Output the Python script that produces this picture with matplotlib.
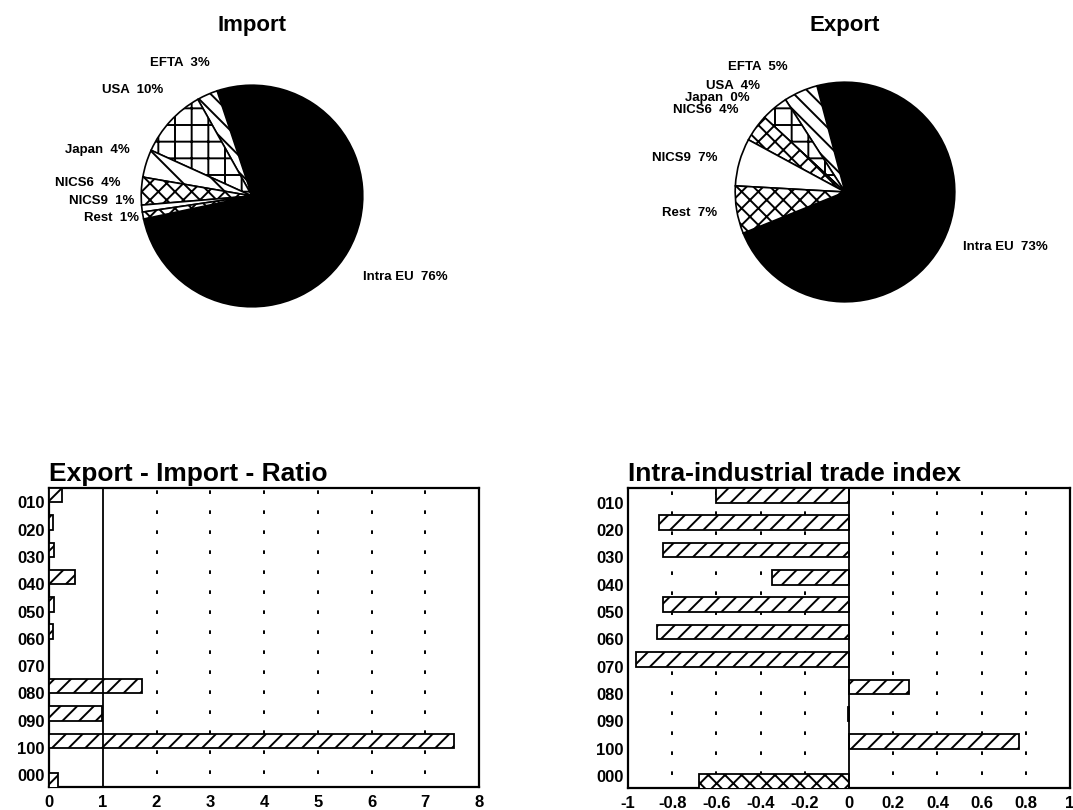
import numpy as np
import matplotlib
matplotlib.use("Agg")
from matplotlib import pyplot as plt

plt.rcParams['font.family'] = ['Liberation Sans', 'DejaVu Sans']
plt.rcParams['font.weight'] = 'bold'
plt.rcParams['axes.titleweight'] = 'bold'
plt.rcParams['hatch.linewidth'] = 1.4
plt.rcParams['lines.scale_dashes'] = False

# pie data
regions = ['Intra EU', 'EFTA', 'USA', 'Japan', 'NICS6', 'NICS9', 'Rest']
import_share = [76, 3, 10, 4, 4, 1, 1]
export_share = [73, 5, 4, 0, 4, 7, 7]

# bar data
categories = ['010', '020', '030', '040', '050', '060', '070', '080', '090', '100', '000']
ex_im_ratio = [0.25, 0.08, 0.09, 0.48, 0.09, 0.07, 0.0, 1.73, 0.98, 7.53, 0.17]
intra_index = [-0.60, -0.86, -0.84, -0.35, -0.84, -0.87, -0.965, 0.27, -0.005, 0.77, -0.68]

W, H = 1073, 810
fig = plt.figure(figsize=(W / 100, H / 100), dpi=100)


def px_axes(x0, y0, x1, y1):
    return fig.add_axes([x0 / W, 1 - y1 / H, (x1 - x0) / W, (y1 - y0) / H])


pie_hatch = {
    'import': [None, '\\\\', '+', '\\', 'xx', None, 'xx'],
    'export': [None, '\\\\', '+', None, 'xx', None, 'xx'],
}

label_pos = {
    'import': [(405, 277), (180, 63), (133, 90), (97, 150), (88, 183), (102, 201), (112, 218)],
    'export': [(1005, 247), (758, 67), (733, 86), (717, 98), (706, 110), (685, 158), (690, 213)],
}


def draw_pie(center, r, shares, hatches, labels_px, start, title):
    cx, cy = center
    ax = px_axes(cx - r, cy - r, cx + r, cy + r)
    wedges, _ = ax.pie(shares, startangle=start, counterclock=True,
                       wedgeprops=dict(edgecolor='black', linewidth=1.2))
    for w, h, name in zip(wedges, hatches, regions):
        if name == 'Intra EU':
            w.set_facecolor('black')
        else:
            w.set_facecolor('white')
            if h:
                w.set_hatch(h)
    ax.set_xlim(-1.02, 1.02)
    ax.set_ylim(-1.02, 1.02)
    fig.text(cx / W, 1 - 25 / H, title, ha='center', va='center', fontsize=16)
    for name, val, (tx, ty) in zip(regions, shares, labels_px):
        fig.text(tx / W, 1 - ty / H, f'{name}  {val}%', ha='center', va='center',
                 fontsize=9.5)


draw_pie((252, 196), 113, import_share, pie_hatch['import'], label_pos['import'],
         -168, 'Import')
draw_pie((845, 192), 112, export_share, pie_hatch['export'], label_pos['export'],
         -158, 'Export')

# bar charts
idx = np.arange(len(categories))
ypos = np.where(np.array(categories) == '000', idx + 0.19, idx - 0.265)


def draw_bars(ax, values, xlim, grid_x, ref, title, total_hatch):
    hatches = ['//'] * (len(values) - 1) + [total_hatch]
    for y, v, h in zip(ypos, values, hatches):
        ax.barh(y, v, height=0.53, left=0, color='white', edgecolor='black',
                linewidth=1.3, hatch=h, zorder=3)
    for gx in grid_x:
        ax.axvline(gx, color='black', lw=1.4, linestyle=(5, (2.6, 11.8)), zorder=1)
    ax.axvline(ref, color='black', lw=1.3, zorder=4)
    ax.set_xlim(*xlim)
    ax.set_ylim(10.43, -0.53)
    ax.set_yticks(idx)
    ax.set_yticklabels(categories, fontsize=12)
    ax.tick_params(length=0, pad=3)
    ax.tick_params(axis='x', labelsize=12, pad=6)
    for s in ax.spines.values():
        s.set_linewidth(1.6)
    ax.set_title(title, loc='left', fontsize=19, pad=5)


ax1 = px_axes(49, 488, 479, 787)
draw_bars(ax1, ex_im_ratio, (0, 8), [2, 3, 4, 5, 6, 7], 1, 'Export - Import - Ratio', '//')
ax1.set_xticks(range(0, 9))
ax1.set_xticklabels([str(i) for i in range(0, 9)])

ax2 = px_axes(628, 488, 1070, 788)
draw_bars(ax2, intra_index, (-1, 1), [-0.8, -0.6, -0.4, -0.2, 0.2, 0.4, 0.6, 0.8], 0,
          'Intra-industrial trade index', 'xx')
xt = [-1, -0.8, -0.6, -0.4, -0.2, 0, 0.2, 0.4, 0.6, 0.8, 1]
ax2.set_xticks(xt)
ax2.set_xticklabels(['-1', '-0.8', '-0.6', '-0.4', '-0.2', '0', '0.2', '0.4', '0.6', '0.8', '1'])

fig.savefig('out.png', dpi=100)
